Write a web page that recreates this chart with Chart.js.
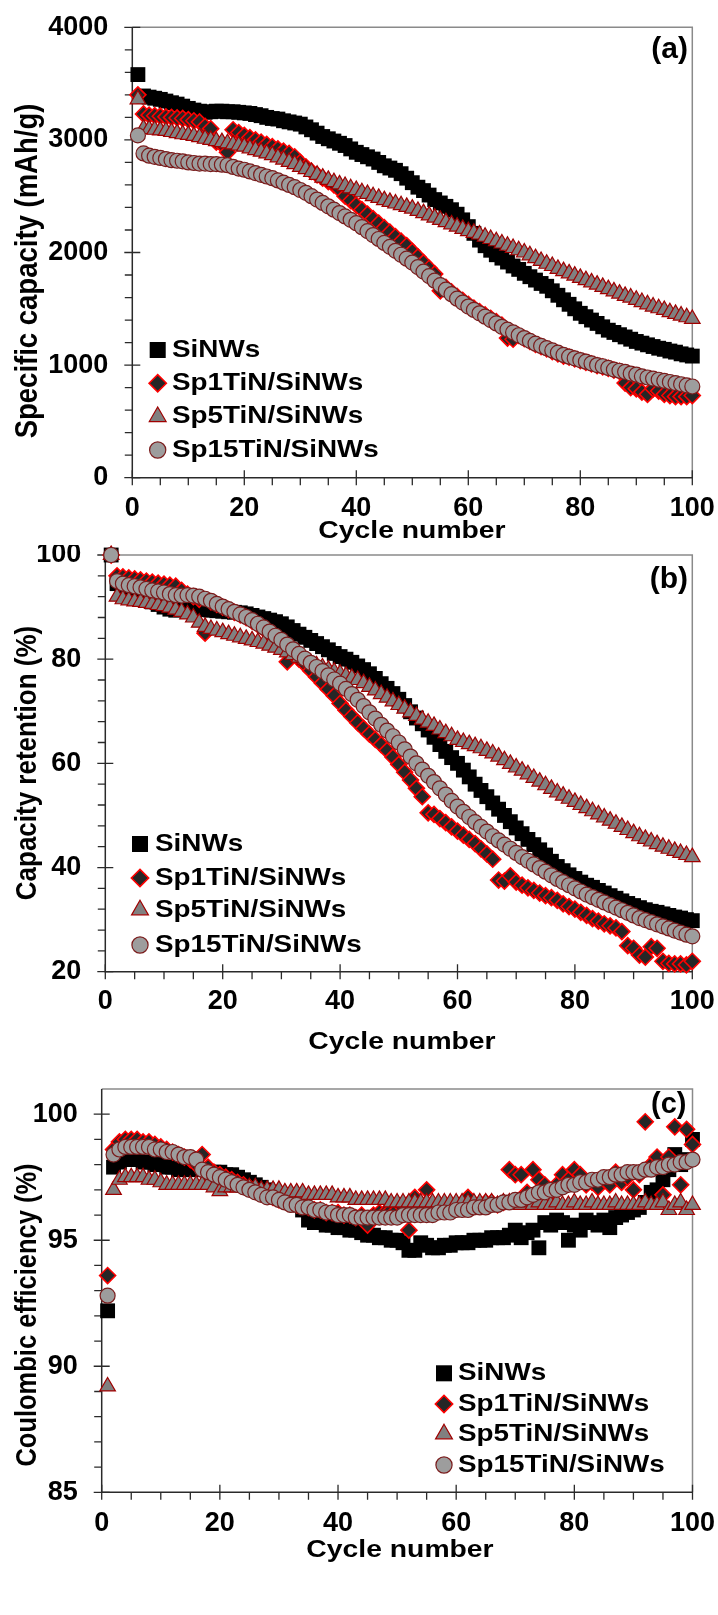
<!DOCTYPE html>
<html>
<head>
<meta charset="utf-8">
<script src="https://cdn.jsdelivr.net/npm/chart.js@4.4.1/dist/chart.umd.min.js"></script>
<style>
  html, body { margin: 0; padding: 0; background: #fff; }
  #wrap { position: relative; width: 718px; height: 1615px; overflow: hidden; }
  canvas { position: absolute; left: 0; }
</style>
</head>
<body>
<div id="wrap">
  <canvas id="chartA" width="718" height="545" style="top:0px"></canvas>
  <canvas id="chartB" width="718" height="520" style="top:545px"></canvas>
  <canvas id="chartC" width="718" height="550" style="top:1065px"></canvas>
</div>
<script>
// ---- data ----
const cycles = Array.from({ length: 100 }, (_, i) => i + 1);
const seriesNames = ['SiNWs', 'Sp1TiN/SiNWs', 'Sp5TiN/SiNWs', 'Sp15TiN/SiNWs'];

// tick labels of each panel
const cycleTicks = [0, 20, 40, 60, 80, 100];
const capTicks = [0, 1000, 2000, 3000, 4000];
const retTicks = [20, 40, 60, 80, 100];
const ceTicks = [85, 90, 95, 100];

// (a) specific capacity, mAh/g
const capSiNWs = [3580,3390,3380,3370,3360,3345,3330,3318,3300,3280, 3265,3255,3245,3250,3255,3255,3250,3250,3245,3240,
  3235,3225,3215,3200,3190,3185,3170,3160,3150,3140, 3115,3090,3060,3030,3010,2990,2970,2950,2920,2890,
  2870,2850,2830,2800,2770,2750,2730,2700,2660,2620, 2580,2550,2510,2470,2440,2410,2380,2340,2290,2230,
  2170,2110,2060,2020,1980,1950,1915,1880,1850,1815, 1785,1755,1725,1700,1660,1620,1580,1540,1500,1460,
  1430,1400,1370,1340,1310,1290,1270,1250,1230,1210, 1195,1180,1165,1150,1140,1125,1115,1100,1090,1080];
const capSp1 = [3400,3230,3220,3215,3210,3205,3200,3195,3190,3180, 3170,3160,3120,3100,2980,2960,2890,3090,3065,3040,
  3020,3000,2980,2960,2940,2920,2900,2880,2850,2800, 2760,2720,2690,2660,2630,2600,2560,2500,2460,2420,
  2380,2340,2300,2260,2220,2180,2140,2100,2060,2010, 1960,1910,1860,1810,1660,1690,1650,1610,1575,1540,
  1505,1475,1445,1415,1385,1355,1240,1230,1265,1235, 1210,1185,1165,1145,1120,1100,1080,1070,1055,1040,
  1025,1010,995,985,970,955,945,840,800,790, 760,740,790,770,740,730,720,720,720,730];
const capSp5 = [3360,3100,3095,3090,3085,3080,3070,3060,3050,3045, 3035,3025,3010,3000,2990,2980,2970,2960,2950,2940,
  2925,2910,2895,2880,2865,2845,2825,2805,2785,2760, 2740,2715,2690,2665,2645,2625,2605,2590,2570,2555,
  2535,2520,2500,2485,2465,2450,2435,2420,2405,2390, 2370,2350,2330,2310,2290,2270,2250,2230,2210,2190,
  2175,2160,2140,2120,2100,2080,2060,2040,2020,2000, 1975,1950,1925,1900,1880,1855,1835,1815,1795,1775,
  1755,1735,1715,1695,1675,1655,1635,1615,1600,1580, 1560,1540,1520,1505,1490,1470,1455,1440,1425,1410];
const capSp15 = [3040,2880,2860,2850,2840,2830,2820,2815,2810,2800, 2795,2790,2790,2785,2785,2780,2775,2760,2745,2735,
  2720,2705,2690,2675,2660,2640,2620,2600,2580,2555, 2530,2500,2470,2440,2410,2380,2350,2320,2290,2260,
  2225,2190,2155,2120,2085,2050,2015,1980,1945,1910, 1870,1830,1790,1750,1710,1670,1630,1590,1555,1520,
  1490,1460,1430,1400,1370,1340,1315,1290,1265,1240, 1215,1190,1170,1150,1130,1110,1090,1075,1060,1045,
  1030,1015,1000,990,975,960,950,940,925,915, 900,890,880,870,860,850,840,830,820,810];

// (b) capacity retention, %
const retSiNWs = [100,94.5,93.5,93,92.5,92,91.5,91,90.5,90, 89.6,89.4,89.5,89.6,89.7,89.6,89.5,89.4,89.3,89.2,
  89.1,89,88.9,88.7,88.4,88.1,87.8,87.5,87.2,86.8, 86.2,85.5,84.8,84.2,83.6,83,82.4,81.8,81.1,80.5,
  80,79.4,78.7,78,77.2,76.3,75.3,74.4,73.4,72.3, 71.1,69.9,68.7,67.6,66.4,65,63.6,62.3,61.1,60,
  58.7,57.4,56,54.8,53.6,52.4,51.2,50,48.8,47.6, 46.5,45.4,44.4,43.4,42.4,41.2,40.2,39.4,38.6,37.9,
  37.2,36.6,36.2,35.6,35.1,34.6,34.1,33.6,33.1,32.7, 32.3,31.9,31.6,31.4,31.1,30.8,30.5,30.3,30,29.8];
const retSp1 = [100,96,95.8,95.6,95.4,95.2,95,94.8,94.6,94.4, 94.2,94,93.2,92.5,92,91.5,85,91,90.5,90,
  89.5,89,88.5,88,87.3,86.6,85.8,85,84,83, 79.5,81,80,79,77.8,76.6,75.4,74.2,73,71.5,
  70.2,69,67.8,66.7,65.6,64.6,63.6,62.5,61.2,59.8, 58.3,56.8,55.2,53.6,50.5,50.2,49.4,48.6,47.8,47,
  46.2,45.4,44.6,43.6,42.6,41.6,37.6,37.4,38.4,37.2, 36.6,36.1,35.6,35.1,34.6,34.2,33.7,33,32.5,32,
  31.4,30.8,30.2,29.7,29.2,28.8,28.4,27.7,25,24.5, 23.2,22.8,24.8,24.5,22,21.6,21.5,21.5,21.3,22];
const retSp5 = [100,92,91.5,91.3,91.1,91,90.8,90.6,90.4,90.2, 89.9,89.5,89.1,88.6,88,87,86.2,85.8,85.5,85.2,
  84.8,84.5,84.2,83.9,83.6,83.3,83,82.6,82.2,81.8, 81.3,80.8,80.3,79.8,79.3,78.8,78.4,78,77.6,77.2,
  76.8,76.4,76,75.4,74.7,74,73.3,72.6,71.9,71.2, 70.5,69.8,69.1,68.4,67.8,67.2,66.5,65.8,65.2,64.5,
  64.1,63.7,63.3,62.9,62.4,61.9,61.3,60.6,59.9,59.2, 58.6,57.9,57.2,56.5,55.8,55.1,54.4,53.8,53.2,52.6,
  52,51.4,50.8,50.2,49.6,49,48.4,47.8,47.2,46.6, 46,45.5,45,44.5,44,43.6,43.2,42.8,42.4,42];
const retSp15 = [100,95,94.5,94.2,94,93.8,93.5,93.2,93,92.8, 92.5,92.3,92.2,92.3,92.2,92,91.6,91.2,90.6,90.1,
  89.6,89.1,88.6,88.1,87.5,86.8,86.1,85.3,84.5,83.7, 82.8,81.9,81,80.1,79.3,78.5,77.7,76.9,76.1,75.3,
  74.3,73.3,72.2,71,69.8,68.6,67.4,66.3,65.2,64, 62.7,61.3,60,58.8,57.6,56.4,55.2,54,52.8,51.7,
  50.7,49.7,48.7,47.8,46.9,46,45.2,44.4,43.6,42.8, 42,41.3,40.6,39.9,39.2,38.5,37.8,37.2,36.6,36,
  35.4,34.8,34.3,33.8,33.3,32.8,32.3,31.8,31.3,30.8, 30.3,29.9,29.5,29.1,28.7,28.3,27.9,27.5,27.1,26.8];

// (c) coulombic efficiency, %
const ceSiNWs = [92.2,97.9,98.1,98.2,98.2,98.2,98.1,98.1,98,98, 97.9,97.9,97.8,97.8,97.8,97.8,97.8,97.7,97.7,97.7,
  97.6,97.6,97.5,97.4,97.3,97.2,97.1,97,96.9,96.8, 96.6,96.5,96.4,96.2,95.8,95.7,95.7,95.6,95.6,95.5,
  95.5,95.4,95.4,95.3,95.2,95.2,95.1,95.1,95,95, 94.9,94.6,94.6,94.9,94.8,94.7,94.7,94.8,94.8,94.9,
  94.9,94.9,95,95,95,95.1,95.1,95.1,95.2,95.4, 95.1,95.3,95.4,94.7,95.7,95.6,95.8,95.7,95,95.6,
  95.4,95.8,95.7,95.6,95.8,95.5,95.9,96,96.1,96.2, 96.3,96.5,96.9,97,97.4,97.8,98.4,98,98.2,99];
const ceSp1 = [93.6,98.6,98.9,99,99,99,98.9,98.9,98.8,98.7, 98.6,98.5,98.4,98.3,98.2,98,98.4,97.9,97.7,97.6,
  97.5,97.4,97.3,97.2,97.1,97,96.9,96.8,96.7,96.6, 96.6,96.5,96.4,96.4,96.3,96.2,96.2,96.1,96.1,96.1,
  96,96,95.9,96,95.6,96,96.1,96.1,96.2,96.2, 96.3,95.4,96.7,96.3,97,96.3,96.3,96.3,96.3,96.4,
  96.4,96.7,96.4,96.4,96.5,96.5,96.4,96.5,97.8,97.6, 97.6,96.9,97.8,97.4,97.2,96.9,97.2,97.6,97.4,97.8,
  97.6,97.2,97.3,97.1,97.4,97.2,97.7,97.3,97.5,97, 97.6,99.7,98,98.3,96.8,98.3,99.5,97.2,99.4,98.8];
const ceSp5 = [89.2,97,97.4,97.5,97.5,97.5,97.5,97.4,97.4,97.3, 97.2,97.2,97.2,97.2,97.2,97.2,97.2,97.2,97.1,96.95,
  97.1,97.1,97.1,97.1,97.1,97.1,97,97,97,97, 96.9,96.9,96.9,96.9,96.8,96.8,96.8,96.8,96.8,96.7,
  96.7,96.7,96.6,96.6,96.6,96.6,96.6,96.6,96.5,96.5, 96.5,96.5,96.5,96.5,96.5,96.5,96.5,96.5,96.5,96.5,
  96.5,96.5,96.5,96.5,96.5,96.5,96.4,96.5,96.5,96.5, 96.4,96.5,96.4,96.5,96.4,96.4,96.5,96.4,96.4,96.5,
  96.4,96.4,96.5,96.4,96.4,96.4,96.5,96.4,96.4,96.4, 96.4,96.5,96.4,96.4,96.5,96.2,96.4,96.5,96.2,96.4];
const ceSp15 = [92.8,98.4,98.6,98.7,98.7,98.7,98.7,98.7,98.6,98.6, 98.5,98.5,98.4,98.3,98.3,98.2,97.8,97.7,97.6,97.5,
  97.4,97.3,97.2,97.1,97,96.9,96.8,96.7,96.7,96.6, 96.5,96.4,96.4,96.3,96.3,96.2,96.2,96.1,96.1,96,
  96,96,95.9,95.9,95.9,95.9,95.9,95.9,95.9,95.9, 96,96,96,96,96,96,96.1,96.1,96.1,96.2,
  96.2,96.2,96.3,96.3,96.3,96.4,96.4,96.5,96.5,96.6, 96.6,96.7,96.8,96.9,96.9,97,97,97.1,97.2,97.2,
  97.3,97.3,97.4,97.4,97.5,97.5,97.6,97.6,97.7,97.7, 97.7,97.8,97.8,97.9,97.9,98,98,98.1,98.1,98.2];

// ---- marker styles, legend order = seriesNames order ----
const markerStyles = [
  { pointStyle: 'rect',     radius: 10.5, bg: '#000000', border: '#000000', bw: 0,   order: 4 },
  { pointStyle: 'rectRot',  radius: 8,    bg: '#262626', border: '#ff0000', bw: 1.6, order: 3 },
  { pointStyle: 'triangle', radius: 9,    bg: '#808080', border: '#a00000', bw: 1.2, order: 2 },
  { pointStyle: 'circle',   radius: 7.5,  bg: '#9d9d9d', border: '#7a1c1c', bw: 1.2, order: 1 }
];

const FONT = 'Liberation Sans, Arial, sans-serif';
Chart.defaults.font.family = FONT;
Chart.defaults.font.weight = 'bold';
Chart.defaults.color = '#000';

// text drawn a little wider, like the original figure
function wideText(ctx, text, x, y, size, align, sx) {
  ctx.save();
  ctx.font = 'bold ' + size + 'px ' + FONT;
  ctx.textBaseline = 'middle';
  ctx.translate(x, y);
  ctx.scale(sx, 1);
  ctx.textAlign = align;
  ctx.fillText(text, 0, 0);
  ctx.restore();
}

// frame, minor/major ticks, legend, titles and panel letter
const decorPlugin = {
  id: 'decor',
  beforeDatasetsDraw(chart, args, o) {
    const { ctx, chartArea: a, scales } = chart;
    const x = scales.x, y = scales.y;
    ctx.save();
    ctx.lineWidth = 1.5;
    ctx.strokeStyle = '#8a8a8a';
    ctx.beginPath();
    ctx.moveTo(a.left, a.top); ctx.lineTo(a.right, a.top); ctx.lineTo(a.right, a.bottom);
    ctx.stroke();
    ctx.strokeStyle = '#2a2a2a';
    ctx.beginPath();
    ctx.moveTo(a.left, a.top); ctx.lineTo(a.left, a.bottom); ctx.lineTo(a.right, a.bottom);
    ctx.stroke();

    ctx.lineWidth = 1.3;
    ctx.beginPath();
    const nY = Math.round((o.yTickMax - o.yMin) / o.yMinor);
    const everyY = Math.round(o.yMajor / o.yMinor);
    for (let i = 0; i <= nY; i++) {
      const p = y.getPixelForValue(o.yMin + i * o.yMinor);
      if (i % everyY === 0) { ctx.moveTo(a.left - 8, p); ctx.lineTo(a.left + 8, p); }
      else { ctx.moveTo(a.left - 7.5, p); ctx.lineTo(a.left, p); }
    }
    for (let i = 0; i <= 20; i++) {
      const p = x.getPixelForValue(i * 5);
      if (i % 4 === 0) { ctx.moveTo(p, a.bottom - 7.5); ctx.lineTo(p, a.bottom + 7.5); }
      else { ctx.moveTo(p, a.bottom); ctx.lineTo(p, a.bottom + 7.5); }
    }
    ctx.stroke();
    ctx.restore();
  },
  afterDatasetsDraw(chart, args, o) {
    const { ctx } = chart;
    ctx.save();
    // legend
    chart.data.datasets.forEach((ds, i) => {
      const m = markerStyles[i];
      const ly = o.legend.rows[i];
      ctx.fillStyle = m.bg;
      ctx.strokeStyle = m.border;
      ctx.lineWidth = m.bw;
      Chart.helpers.drawPoint(ctx, { pointStyle: m.pointStyle, radius: m.radius * 1.08, rotation: 0, borderWidth: m.bw }, o.legend.markerX, ly);
      ctx.fillStyle = '#000';
      wideText(ctx, ds.label, o.legend.textX, ly, 24, 'left', 1.16);
    });
    // panel letter
    ctx.fillStyle = '#000';
    ctx.font = 'bold ' + o.letter.size + 'px ' + FONT;
    ctx.textAlign = 'right';
    ctx.textBaseline = 'alphabetic';
    ctx.fillText(o.letter.text, o.letter.x, o.letter.y);
    // x title
    wideText(ctx, 'Cycle number', o.xTitle.x, o.xTitle.y, 24, 'center', 1.18);
    // y title
    ctx.save();
    ctx.translate(o.yTitle.x, o.yTitle.y);
    ctx.scale(1.12, 1);
    ctx.rotate(-Math.PI / 2);
    ctx.font = 'bold ' + o.yTitle.size + 'px ' + FONT;
    ctx.textAlign = 'center';
    ctx.textBaseline = 'middle';
    ctx.fillText(o.yTitle.text, 0, 0);
    ctx.restore();
    ctx.restore();
  }
};

function makeDatasets(valueLists) {
  return valueLists.map((vals, i) => {
    const m = markerStyles[i];
    return {
      label: seriesNames[i],
      data: cycles.map((c, k) => ({ x: c, y: vals[k] })),
      showLine: false,
      pointStyle: m.pointStyle,
      pointRadius: m.radius,
      pointHoverRadius: m.radius,
      pointBackgroundColor: m.bg,
      pointBorderColor: m.border,
      pointBorderWidth: m.bw,
      backgroundColor: m.bg,
      borderColor: m.border,
      clip: false,
      order: m.order
    };
  });
}

function makePanel(id, p) {
  return new Chart(document.getElementById(id), {
    type: 'scatter',
    data: { datasets: makeDatasets(p.values) },
    options: {
      responsive: false,
      animation: false,
      devicePixelRatio: 1,
      events: [],
      layout: { autoPadding: false, padding: { left: 0, top: p.area.top, right: 718 - p.area.right, bottom: 0 } },
      plugins: { legend: { display: false }, tooltip: { enabled: false }, decor: p.decor },
      scales: {
        x: {
          type: 'linear', min: 0, max: 100,
          grid: { display: false, drawTicks: false },
          border: { display: false },
          ticks: { padding: p.xPad, maxRotation: 0, autoSkip: false, color: '#000',
                   font: { size: 27, weight: 'bold', lineHeight: 1.2 } },
          afterBuildTicks(s) { s.ticks = cycleTicks.map(v => ({ value: v })); },
          afterFit(s) { s.height = p.canvasH - p.area.bottom; s.paddingLeft = 0; s.paddingRight = 0; }
        },
        y: {
          type: 'linear', min: p.yMin, max: p.yMax,
          grid: { display: false, drawTicks: false },
          border: { display: false },
          ticks: { padding: 24, color: '#000', font: { size: 27, weight: 'bold' },
                   callback: v => String(v) },
          afterBuildTicks(s) { s.ticks = p.yTicks.map(v => ({ value: v })); },
          afterFit(s) { s.width = p.area.left; s.paddingTop = 0; s.paddingBottom = 0; }
        }
      }
    },
    plugins: [decorPlugin]
  });
}

makePanel('chartA', {
  values: [capSiNWs, capSp1, capSp5, capSp15],
  canvasH: 545,
  area: { left: 132.3, top: 27.3, right: 692.3, bottom: 477.7 },
  yMin: 0, yMax: 4000, yTicks: capTicks, xPad: 15.1,
  decor: {
    yMin: 0, yTickMax: 4000, yMinor: 200, yMajor: 1000,
    legend: { markerX: 157.7, textX: 172, rows: [350, 383.3, 416.7, 450] },
    letter: { text: '(a)', x: 688, y: 57.7, size: 30 },
    xTitle: { x: 412, y: 531 },
    yTitle: { x: 28.3, y: 271, size: 27.5, text: 'Specific capacity (mAh/g)' }
  }
});

makePanel('chartB', {
  values: [retSiNWs, retSp1, retSp5, retSp15],
  canvasH: 520,
  area: { left: 105.3, top: 10, right: 692.3, bottom: 426.7 },
  yMin: 20, yMax: 100, yTicks: retTicks, xPad: 13.8,
  decor: {
    yMin: 20, yTickMax: 100, yMinor: 4, yMajor: 20,
    legend: { markerX: 140, textX: 155, rows: [299, 333, 365, 400] },
    letter: { text: '(b)', x: 688, y: 42.7, size: 30 },
    xTitle: { x: 402, y: 497 },
    yTitle: { x: 28.3, y: 218, size: 26, text: 'Capacity retention (%)' }
  }
});

makePanel('chartC', {
  values: [ceSiNWs, ceSp1, ceSp5, ceSp15],
  canvasH: 550,
  area: { left: 101.7, top: 24, right: 692.5, bottom: 427.3 },
  yMin: 85, yMax: 101, yTicks: ceTicks, xPad: 15,
  decor: {
    yMin: 85, yTickMax: 100, yMinor: 1, yMajor: 5,
    legend: { markerX: 444, textX: 458, rows: [308.3, 339, 369, 400] },
    letter: { text: '(c)', x: 686.5, y: 48.3, size: 29 },
    xTitle: { x: 400, y: 485 },
    yTitle: { x: 28.3, y: 250, size: 25.5, text: 'Coulombic efficiency (%)' }
  }
});
</script>
</body>
</html>
